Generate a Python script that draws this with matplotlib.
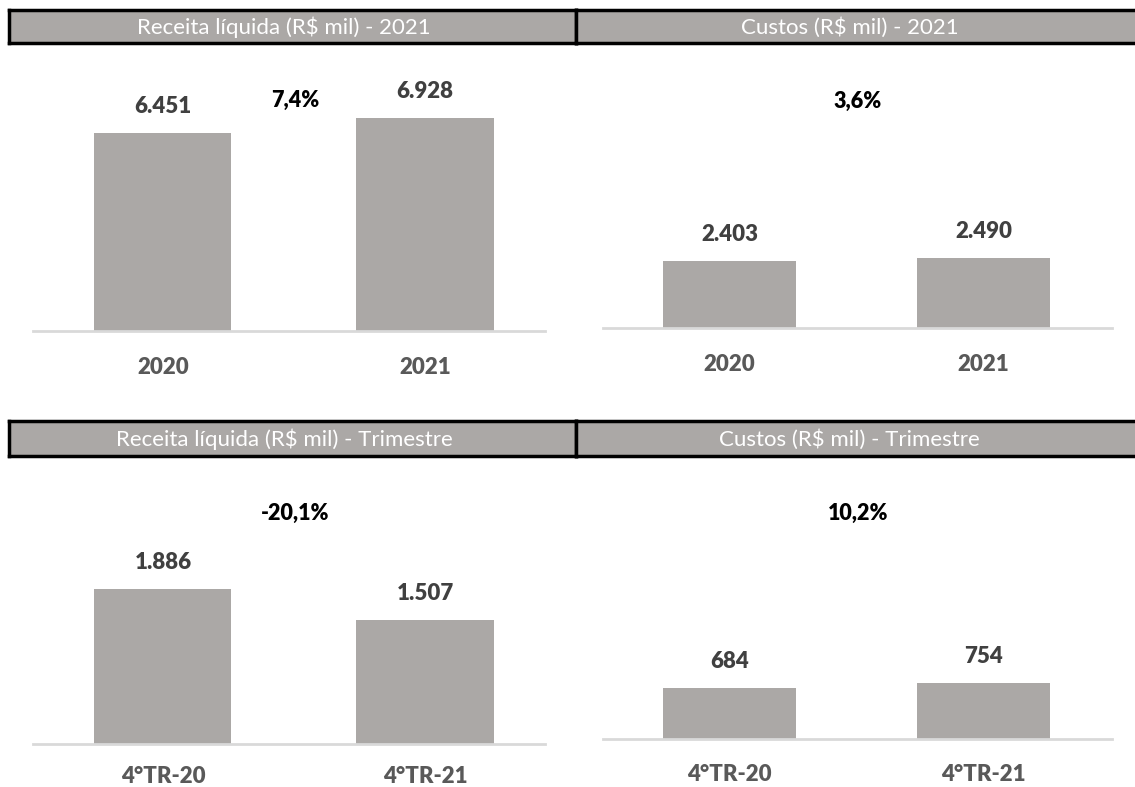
import matplotlib.pyplot as plt

# Data
titles = ["Receita líquida (R$ mil) - 2021", "Custos (R$ mil) - 2021",
          "Receita líquida (R$ mil) - Trimestre", "Custos (R$ mil) - Trimestre"]
cats_year = ["2020", "2021"]
cats_quarter = ["4°TR-20", "4°TR-21"]
receita_ano = [6451, 6928]
custos_ano = [2403, 2490]
receita_tri = [1886, 1507]
custos_tri = [684, 754]
variacao = ["7,4%", "3,6%", "-20,1%", "10,2%"]

W, H = 1135, 787
BAR = "#aba8a6"
plt.rcParams['font.family'] = ['Lato', 'DejaVu Sans']

fig = plt.figure(figsize=(W / 100, H / 100), dpi=100)


def box(x0, y0, x1, y1):
    # pixel box (top-left origin) -> figure fraction rect
    return [x0 / W, 1 - y1 / H, (x1 - x0) / W, (y1 - y0) / H]


def header(x0, y0, x1, y1, text):
    ax = fig.add_axes(box(x0, y0, x1, y1))
    ax.set_facecolor(BAR)
    ax.set_xticks([])
    ax.set_yticks([])
    for s in ax.spines.values():
        s.set_linewidth(2.5)
        s.set_color("black")
    ax.text(0.485, 0.47, text, ha="center", va="center", color="white",
            fontsize=16, transform=ax.transAxes)


# headers
header(9, 10, 576, 43, titles[0])
header(576, 10, 1140, 43, titles[1])
header(9, 421, 576, 456, titles[2])
header(576, 421, 1140, 456, titles[3])

# panels: (axes box, xlim, ymax, cats, values, label pad)
panels = [
    ((33, 60, 545, 331), (-0.496, 1.458), 8830, cats_year, receita_ano, 19),
    ((603, 60, 1112, 328), (-0.498, 1.506), 9570, cats_year, custos_ano, 19),
    ((33, 470, 545, 744), (-0.496, 1.458), 3333, cats_quarter, receita_tri, 16),
    ((603, 470, 1112, 739), (-0.498, 1.506), 3611, cats_quarter, custos_tri, 18),
]

for (b, xl, ymax, cats, vals, pad) in panels:
    ax = fig.add_axes(box(*b))
    xs = range(len(vals))
    ax.bar(xs, vals, width=0.523, color=BAR, zorder=2)
    for x, v in zip(xs, vals):
        ax.annotate(f"{v:,}".replace(",", "."), (x, v), xytext=(0, 19),
                    textcoords="offset points", ha="center", va="center",
                    fontsize=16, fontweight="heavy", color="#404040")
    ax.set_xlim(*xl)
    ax.set_ylim(0, ymax)
    ax.set_xticks(list(xs))
    ax.set_xticklabels(cats, fontsize=16, fontweight="heavy", color="#595959")
    ax.tick_params(axis="x", length=0, pad=pad)
    ax.set_yticks([])
    for s in ["top", "left", "right"]:
        ax.spines[s].set_visible(False)
    ax.spines["bottom"].set_color("#d9d9d9")
    ax.spines["bottom"].set_linewidth(2)
    ax.patch.set_alpha(0)

# variation labels
pos = [(295, 100), (858, 101), (295, 513), (858, 513)]
for (px, py), t in zip(pos, variacao):
    fig.text(px / W, 1 - py / H, t, ha="center", va="center",
             fontsize=15.5, fontweight="heavy", color="black")

fig.savefig("out.png", dpi=100)
